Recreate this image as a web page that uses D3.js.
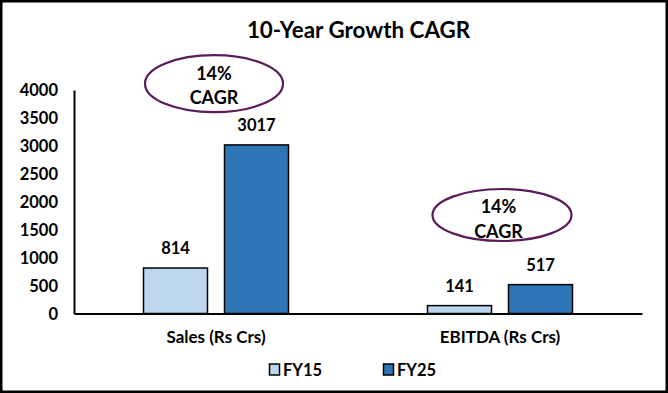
<!DOCTYPE html>
<html><head><meta charset="utf-8">
<script src="https://cdn.jsdelivr.net/npm/d3@7"></script>
<style>
html,body{margin:0;padding:0;background:#fff;}
svg text{font-family:Lato,"Open Sans",sans-serif;font-weight:700;fill:#000;}
</style></head>
<body><svg id="c" width="668" height="393"></svg>
<script>
const categories = ["Sales (Rs Crs)", "EBITDA (Rs Crs)"];
const seriesNames = ["FY15", "FY25"];
const fy15 = [814, 141];
const fy25 = [3017, 517];
const yTicks = [0, 500, 1000, 1500, 2000, 2500, 3000, 3500, 4000];
const cagrLabels = ["14%", "14%"];
const colors = ["#BDD7EE", "#2E75B6"];

const svg = d3.select("#c");
svg.append("rect").attr("x",1.25).attr("y",1.25).attr("width",665.5).attr("height",390.5)
  .attr("fill","#fff").attr("stroke","#000").attr("stroke-width",2.5);

svg.append("text").attr("x",358.5).attr("y",37.5).attr("text-anchor","middle")
  .style("font-size","22.4px").text("10-Year Growth CAGR");

const pLeft=74, pRight=642, pTop=90, pBottom=313.5;
const x0 = d3.scaleBand().domain(categories).range([pLeft,pRight]).paddingInner(0).paddingOuter(0);
const x1 = d3.scaleBand().domain(seriesNames).range([69.5, 69.5+145]).paddingInner(0.21);
const y = d3.scaleLinear().domain([0,4000]).range([pBottom, pTop]);

// y axis
const ya = svg.append("g").attr("transform",`translate(${pLeft},0)`)
  .call(d3.axisLeft(y).tickValues(yTicks).tickFormat(d3.format("d")).tickSize(0).tickPadding(16));
ya.select(".domain").attr("stroke","#000").attr("stroke-width",2);
ya.selectAll("text").style("font-size","16.5px").style("font-family","Lato").attr("dy","0.35em");

const rows = categories.map((c,i)=>({cat:c, vals:[fy15[i], fy25[i]]}));
const g = svg.append("g");
rows.forEach(r=>{
  const gx = x0(r.cat);
  r.vals.forEach((v,j)=>{
    const bx = gx + x1(seriesNames[j]);
    g.append("rect").attr("x",bx).attr("y",y(v)).attr("width",x1.bandwidth())
      .attr("height",y(0)-y(v)).attr("fill",colors[j]).attr("stroke","#000").attr("stroke-width",1.5);
    g.append("text").attr("x",bx+x1.bandwidth()/2).attr("y",y(v)-14).attr("text-anchor","middle")
      .style("font-size","16.5px").text(v);
  });
});

// x axis
const xa = svg.append("g").attr("transform",`translate(0,${pBottom})`)
  .call(d3.axisBottom(x0).tickSize(0).tickPadding(17));
xa.select(".domain").attr("stroke","#000").attr("stroke-width",2);
xa.selectAll("text").style("font-size","17px").style("font-family","Lato");

// CAGR ellipses
const ell = [
  {cat:categories[0], dx:-2, tdx:-2, cy:83.7, rx:69, ry:28.5, t1:79.5, t2:104},
  {cat:categories[1], dx:2, tdx:-1.5, cy:215, rx:69.5, ry:26, t1:212.5, t2:237.5}
];
ell.forEach((e,i)=>{
  const c = x0(e.cat) + x0.bandwidth()/2;
  svg.append("ellipse").attr("cx",c+e.dx).attr("cy",e.cy).attr("rx",e.rx).attr("ry",e.ry)
    .attr("fill","#fff").attr("stroke","#5B1C5B").attr("stroke-width",2.2);
  svg.append("text").attr("x",c+e.tdx).attr("y",e.t1).attr("text-anchor","middle")
    .style("font-size","18px").text(cagrLabels[i]);
  svg.append("text").attr("x",c+e.tdx).attr("y",e.t2).attr("text-anchor","middle")
    .style("font-size","18px").text("CAGR");
});

// legend
const lx = [269, 383];
seriesNames.forEach((s,i)=>{
  svg.append("rect").attr("x",lx[i]+0.5).attr("y",364).attr("width",10).attr("height",11)
    .attr("fill",colors[i]).attr("stroke","#000").attr("stroke-width",1.5);
  svg.append("text").attr("x",lx[i]+14).attr("y",375.5)
    .style("font-size","16.5px").text(s);
});
</script></body></html>
